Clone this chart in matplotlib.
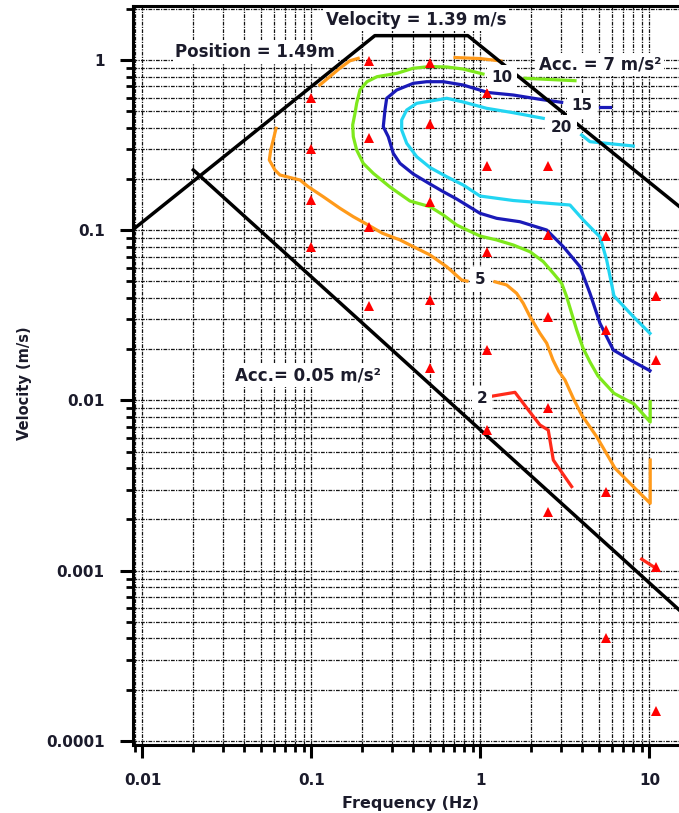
import matplotlib
matplotlib.use("Agg")
import matplotlib.pyplot as plt
from matplotlib.ticker import FixedLocator, FixedFormatter, LogLocator, NullFormatter

# ---- measurement stations (red triangles) ----
tri_freq = [0.1, 0.1, 0.1, 0.1,
            0.22, 0.22, 0.22, 0.22,
            0.5, 0.5, 0.5, 0.5, 0.5,
            1.1, 1.1, 1.1, 1.1, 1.1,
            2.5, 2.5, 2.5, 2.5, 2.5,
            5.5, 5.5, 5.5, 5.5,
            11, 11, 11, 11]
tri_vel = [0.6, 0.3, 0.15, 0.08,
           0.98, 0.35, 0.104, 0.036,
           0.96, 0.42, 0.147, 0.039, 0.0155,
           0.64, 0.24, 0.075, 0.0197, 0.0067,
           0.24, 0.094, 0.031, 0.009, 0.0022,
           0.092, 0.026, 0.0029, 0.0004,
           0.041, 0.0173, 0.00105, 0.00015]

# ---- iso-lines ----
c2_freq = [1.19, 1.6, 1.918, 2.249, 2.518, 2.697, 2.824, 3.464]
c2_vel = [0.01063, 0.01117, 0.0088, 0.00718, 0.0067, 0.00447, 0.00418, 0.00312]
c2b_freq = [8.99, 10.5]
c2b_vel = [0.00117, 0.00106]

c5_freq = [0.0617, 0.0594, 0.0574, 0.0563, 0.0608, 0.0651, 0.0855, 0.0957, 0.1174,
           0.1474, 0.1768, 0.2168, 0.263, 0.334, 0.4003, 0.5027, 0.631, 0.774, 0.832]
c5_vel = [0.397, 0.339, 0.296, 0.2586, 0.2259, 0.2111, 0.1973, 0.1802, 0.1574,
          0.1346, 0.1201, 0.1073, 0.096, 0.0877, 0.0801, 0.0716, 0.0611, 0.051, 0.0503]
c5b_freq = [1.218, 1.429, 1.637, 1.792, 1.963, 2.249, 2.465, 2.685, 2.894, 3.162,
            3.541, 3.969, 4.871, 6.251, 8.02, 10.1, 10.1]
c5b_vel = [0.0498, 0.0477, 0.0426, 0.0372, 0.0311, 0.0248, 0.0217, 0.0173, 0.0149, 0.0132,
           0.0103, 0.00822, 0.00613, 0.004, 0.00312, 0.00249, 0.00447]
c5c_freq = [0.112, 0.147, 0.169, 0.189]
c5c_vel = [0.713, 0.894, 0.99, 1.023]
c5d_freq = [0.707, 0.993, 1.32]
c5d_vel = [1.034, 1.02, 0.987]

c10_freq = [1.035, 0.788, 0.6335, 0.5027, 0.3986, 0.3206, 0.2441, 0.213, 0.1936, 0.1851,
            0.1809, 0.1753, 0.1768, 0.1851, 0.2025, 0.2321, 0.2914, 0.3826, 0.5027, 0.6025,
            0.7231, 0.9932, 1.247, 1.564, 1.963, 2.353, 2.697, 3.023, 3.236, 3.464,
            3.709, 4.042, 4.446, 4.958, 6.166, 8.096, 10.1, 10.1]
c10_vel = [0.8275, 0.8855, 0.9097, 0.9158, 0.8937, 0.8353, 0.7978, 0.7457, 0.6664, 0.5567,
           0.4862, 0.4151, 0.3543, 0.296, 0.2472, 0.216, 0.1795, 0.1485, 0.1375, 0.1229,
           0.1073, 0.0925, 0.0877, 0.0819, 0.0748, 0.0654, 0.0559, 0.0488, 0.0407, 0.0325,
           0.02595, 0.02034, 0.01683, 0.01393, 0.01102, 0.00954, 0.00747, 0.00984]
c10b_freq = [1.834, 3.624]
c10b_vel = [0.7807, 0.7559]

c15_freq = [3.023, 2.249, 1.564, 1.107, 0.791, 0.6025, 0.4805, 0.4003, 0.3193, 0.2786,
            0.2722, 0.266, 0.2847, 0.3048, 0.334, 0.4003, 0.5027, 0.6025, 0.7231, 0.9932,
            1.247, 1.713, 2.465, 3.09, 3.879, 4.446, 5.095, 6.107, 8.02, 10.07]
c15_vel = [0.5642, 0.5876, 0.6228, 0.6443, 0.713, 0.7457, 0.7457, 0.7297, 0.6664, 0.5957,
           0.5084, 0.4057, 0.3543, 0.2831, 0.2472, 0.214, 0.1869, 0.1684, 0.1526, 0.1258,
           0.1175, 0.1122, 0.1003, 0.0801, 0.0611, 0.0426, 0.0284, 0.0198, 0.0169, 0.01496]
c15b_freq = [5.095, 5.838]
c15b_vel = [0.5317, 0.5317]

c20_freq = [2.353, 1.564, 1.088, 0.791, 0.631, 0.5506, 0.4194, 0.366, 0.3418, 0.3418,
            0.366, 0.4194, 0.5027, 0.631, 0.791, 0.9932, 1.564, 3.385, 4.058, 5.095,
            5.58, 6.166, 8.02, 10.07]
c20_vel = [0.4545, 0.4902, 0.5203, 0.5666, 0.596, 0.5821, 0.5567, 0.5084, 0.4441, 0.388,
           0.3242, 0.2704, 0.2336, 0.2063, 0.1844, 0.1589, 0.1495, 0.1407, 0.1149, 0.0913,
           0.0669, 0.0411, 0.0311, 0.0248]
c20b_freq = [3.969, 4.446, 8.02]
c20b_vel = [0.3627, 0.3313, 0.3125]

# iso-line labels
iso_text = ["10", "15", "20", "5", "2"]
iso_freq = [1.335, 3.969, 3.023, 0.993, 1.016]
iso_vel = [0.791, 0.539, 0.4025, 0.0514, 0.0103]

# ---- envelope limits ----
limit_freq = [0.0088, 0.237, 0.842, 15.0]
limit_vel = [0.101, 1.39, 1.39, 0.138]
acc_min_freq = [0.02, 15.0]
acc_min_vel = [0.226, 0.000588]

# ---- axes ticks ----
x_ticks = [0.01, 0.1, 1, 10]
x_tick_labels = ["0.01", "0.1", "1", "10"]
y_ticks = [0.0001, 0.001, 0.01, 0.1, 1]
y_tick_labels = ["0.0001", "0.001", "0.01", "0.1", "1"]

C_ORANGE = "#ff9a1a"
C_GREEN = "#7ee81c"
C_BLUE = "#1a1ab8"
C_CYAN = "#22d5f2"
C_RED = "#ff2a1a"
TXT = "#1b1b2b"
FONT = "DejaVu Sans"

fig = plt.figure(figsize=(6.79, 8.13), dpi=100)
ax = fig.add_axes([133 / 679, 68 / 813, 546 / 679, 739 / 813])
ax.set_xscale("log")
ax.set_yscale("log")
ax.set_xlim(0.00879, 14.95)
ax.set_ylim(0.0000947, 2.076)

grid_ls = (0, (3.0, 1.0, 1.0, 1.0))
ax.grid(True, which="both", color="#151515", linestyle=grid_ls, linewidth=0.9)
ax.set_axisbelow(True)

lw = 2.3
ax.plot(c5_freq, c5_vel, color=C_ORANGE, lw=lw, zorder=3)
ax.plot(c5b_freq, c5b_vel, color=C_ORANGE, lw=lw, zorder=3)
ax.plot(c5c_freq, c5c_vel, color=C_ORANGE, lw=lw, zorder=3)
ax.plot(c5d_freq, c5d_vel, color=C_ORANGE, lw=lw, zorder=3)
ax.plot(c10_freq, c10_vel, color=C_GREEN, lw=lw, zorder=3)
ax.plot(c10b_freq, c10b_vel, color=C_GREEN, lw=lw, zorder=3)
ax.plot(c15_freq, c15_vel, color=C_BLUE, lw=lw, zorder=3)
ax.plot(c15b_freq, c15b_vel, color=C_BLUE, lw=lw, zorder=3)
ax.plot(c20_freq, c20_vel, color=C_CYAN, lw=lw, zorder=3)
ax.plot(c20b_freq, c20b_vel, color=C_CYAN, lw=lw, zorder=3)
ax.plot(c2_freq, c2_vel, color=C_RED, lw=lw, zorder=3)
ax.plot(c2b_freq, c2b_vel, color=C_RED, lw=lw, zorder=3)

ax.plot(limit_freq, limit_vel, color="black", lw=2.5, zorder=4)
ax.plot(acc_min_freq, acc_min_vel, color="black", lw=2.5, zorder=4)

ax.plot(tri_freq, tri_vel, linestyle="none", marker="^", ms=7.5,
        color="#ff0000", markeredgewidth=0, zorder=5)

box = dict(boxstyle="square,pad=0.3", facecolor="white", edgecolor="none")
for t, f, v in zip(iso_text, iso_freq, iso_vel):
    ax.text(f, v, t, ha="center", va="center", fontsize=11, fontweight="bold",
            family=FONT, color=TXT, bbox=box, zorder=6)

ann_box = dict(boxstyle="square,pad=0.15", facecolor="white", edgecolor="none")
ax.text(0.415, 1.718, "Velocity = 1.39 m/s", ha="center", va="center", fontsize=12,
        fontweight="bold", family=FONT, color=TXT, bbox=ann_box, zorder=6)
ax.text(0.0466, 1.119, "Position = 1.49m", ha="center", va="center", fontsize=12,
        fontweight="bold", family=FONT, color=TXT, bbox=ann_box, zorder=6)
ax.text(5.095, 0.935, "Acc. = 7 m/s²", ha="center", va="center", fontsize=12,
        fontweight="bold", family=FONT, color=TXT, bbox=ann_box, zorder=6)
ax.text(0.0948, 0.01393, "Acc.= 0.05 m/s²", ha="center", va="center", fontsize=12,
        fontweight="bold", family=FONT, color=TXT, bbox=ann_box, zorder=6)

ax.xaxis.set_major_locator(FixedLocator(x_ticks))
ax.xaxis.set_major_formatter(FixedFormatter(x_tick_labels))
ax.yaxis.set_major_locator(FixedLocator(y_ticks))
ax.yaxis.set_major_formatter(FixedFormatter(y_tick_labels))
ax.xaxis.set_minor_locator(LogLocator(base=10, subs=range(2, 10), numticks=20))
ax.yaxis.set_minor_locator(LogLocator(base=10, subs=range(2, 10), numticks=20))
ax.xaxis.set_minor_formatter(NullFormatter())
ax.yaxis.set_minor_formatter(NullFormatter())

ax.tick_params(which="major", direction="out", length=9.5, width=2.2, pad=11,
               labelsize=11, labelcolor=TXT, top=False, right=False)
ax.tick_params(which="minor", direction="out", length=5, width=2.0,
               top=False, right=False)
for lab in ax.get_xticklabels() + ax.get_yticklabels():
    lab.set_fontweight("bold")
    lab.set_family(FONT)

for side in ("left", "bottom", "top"):
    ax.spines[side].set_linewidth(2.2)
ax.spines["right"].set_visible(False)

ax.set_xlabel("Frequency (Hz)", fontsize=11.5, fontweight="bold", family=FONT,
              color=TXT, va="center")
ax.xaxis.set_label_coords(0.509, -0.0785)
ax.set_ylabel("Velocity (m/s)", fontsize=10.5, fontweight="bold", family=FONT,
              color=TXT, va="center")
ax.yaxis.set_label_coords(-0.1996, 0.49)

fig.savefig("out.png", dpi=100, facecolor="white")
